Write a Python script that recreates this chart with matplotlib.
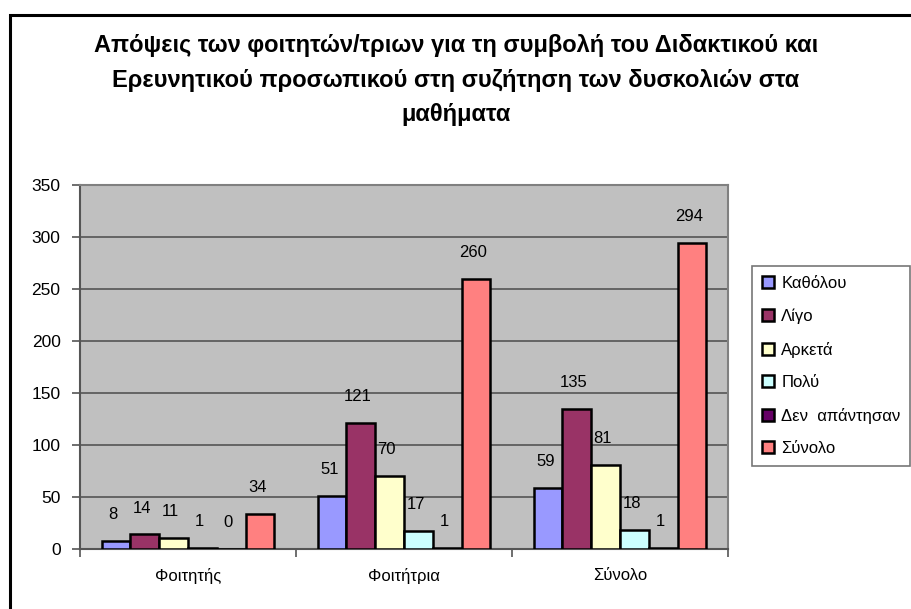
import matplotlib
matplotlib.use("Agg")
import matplotlib.pyplot as plt
import matplotlib.patches as patches
import numpy as np

plt.rcParams['font.family'] = ['Liberation Sans', 'DejaVu Sans']

# data
groups = ['Φοιτητής', 'Φοιτήτρια', 'Σύνολο']
series = ['Καθόλου', 'Λίγο', 'Αρκετά', 'Πολύ', 'Δεν  απάντησαν', 'Σύνολο']
katholou = [8, 51, 59]
ligo = [14, 121, 135]
arketa = [11, 70, 81]
poly = [1, 17, 18]
den_apantisan = [0, 1, 1]
synolo = [34, 260, 294]
colors = ['#9999FF', '#993366', '#FFFFCC', '#CCFFFF', '#660066', '#FF8080']

values = [katholou, ligo, arketa, poly, den_apantisan, synolo]
title = ('Απόψεις των φοιτητών/τριων για τη συμβολή του Διδακτικού και\n'
         'Ερευνητικού προσωπικού στη συζήτηση των δυσκολιών στα\n'
         'μαθήματα')

fig = plt.figure(figsize=(9.12, 6.09), dpi=100)
ax = fig.add_axes([80/912, 1-549/609, 648/912, 364/609])
ax.set_facecolor('#C0C0C0')

centers = np.arange(len(groups)) + 0.5
w = 0.8 / len(series)
for i, (name, vals) in enumerate(zip(series, values)):
    xs = centers + (i - 2.5) * w
    ax.bar(xs, vals, width=w, color=colors[i], edgecolor='black',
           linewidth=1.8, label=name, zorder=3)
    for x, v in zip(xs, vals):
        ax.annotate(str(v), (x, v), xytext=(-2, 19), textcoords='offset points',
                    ha='center', va='center', fontsize=12, zorder=4)

ax.set_xlim(0, 3)
ax.set_ylim(0, 350)
ax.set_yticks(np.arange(0, 351, 50))
ax.yaxis.grid(True, color='#555555', linewidth=1.2, zorder=1)
ax.tick_params(axis='y', labelsize=12.5, length=6, color='#555555', width=1.2, pad=8)

ax.set_xticks([0, 1, 2, 3])
ax.set_xticklabels([])
ax.set_xticks(centers, minor=True)
ax.set_xticklabels(groups, minor=True, fontsize=12)
ax.tick_params(axis='x', which='major', length=6, color='#555555', width=1.2)
ax.tick_params(axis='x', which='minor', length=0, pad=14)

for s in ['top', 'right']:
    ax.spines[s].set_color('#808080')
    ax.spines[s].set_linewidth(1.5)
for s in ['left', 'bottom']:
    ax.spines[s].set_color('#555555')
    ax.spines[s].set_linewidth(1.5)

fig.text(0.5, 1-80/609, title, ha='center', va='center', fontsize=17,
         fontweight='bold', linespacing=1.64)

leg = fig.legend(loc='center left', bbox_to_anchor=(752/912, 1-366/609),
                 fontsize=12, frameon=True, fancybox=False, labelspacing=1.05,
                 handlelength=0.75, handleheight=0.75, handletextpad=0.4,
                 borderpad=0.6, borderaxespad=0)
leg.get_frame().set_edgecolor('#555555')
leg.get_frame().set_linewidth(1.2)

# outer chart border, running off the right and bottom edges
fig.add_artist(patches.Rectangle((10/912, -0.1), 1.2, 1.1 - 15/609,
                                 transform=fig.transFigure, fill=False,
                                 edgecolor='black', linewidth=2.2, clip_on=False))

fig.savefig('out.png', dpi=100)
